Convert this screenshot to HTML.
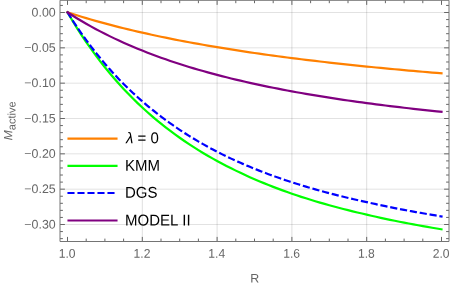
<!DOCTYPE html>
<html><head><meta charset="utf-8"><title>plot</title><style>html,body{margin:0;padding:0;background:#fff}</style></head><body>
<svg width="450" height="288" viewBox="0 0 450 288" style="display:block">
<rect width="450" height="288" fill="#fff"/>
<path d="M142.30 0.5V241.5M217.10 0.5V241.5M291.90 0.5V241.5M366.70 0.5V241.5" stroke="#000" stroke-opacity="0.13" stroke-width="1" fill="none"/>
<path d="M60 12.50H449M60 47.83H449M60 83.17H449M60 118.50H449M60 153.83H449M60 189.17H449M60 224.50H449" stroke="#000" stroke-opacity="0.115" stroke-width="1" fill="none"/>
<path d="M67.50 12.30 L72.17 13.81 L76.85 15.28 L81.53 16.71 L86.20 18.11 L90.88 19.48 L95.55 20.82 L100.22 22.12 L104.90 23.40 L109.58 24.64 L114.25 25.86 L118.92 27.06 L123.60 28.22 L128.28 29.36 L132.95 30.48 L137.62 31.57 L142.30 32.65 L146.97 33.69 L151.65 34.72 L156.33 35.73 L161.00 36.71 L165.67 37.68 L170.35 38.63 L175.03 39.56 L179.70 40.47 L184.38 41.37 L189.05 42.24 L193.72 43.10 L198.40 43.95 L203.08 44.78 L207.75 45.59 L212.42 46.39 L217.10 47.18 L221.78 47.95 L226.45 48.71 L231.12 49.45 L235.80 50.18 L240.47 50.90 L245.15 51.61 L249.83 52.31 L254.50 52.99 L259.18 53.66 L263.85 54.33 L268.53 54.98 L273.20 55.62 L277.88 56.25 L282.55 56.87 L287.22 57.48 L291.90 58.08 L296.58 58.67 L301.25 59.25 L305.93 59.82 L310.60 60.39 L315.28 60.95 L319.95 61.49 L324.62 62.03 L329.30 62.57 L333.97 63.09 L338.65 63.61 L343.32 64.12 L348.00 64.62 L352.68 65.11 L357.35 65.60 L362.03 66.08 L366.70 66.55 L371.38 67.02 L376.05 67.48 L380.72 67.94 L385.40 68.39 L390.07 68.83 L394.75 69.27 L399.43 69.70 L404.10 70.12 L408.78 70.54 L413.45 70.96 L418.12 71.37 L422.80 71.77 L427.47 72.17 L432.15 72.56 L436.82 72.95 L441.50 73.34" stroke="#ff8000" stroke-width="2.2" fill="none" stroke-linejoin="round" stroke-linecap="square"/>
<path d="M67.50 12.30 L72.17 20.21 L76.85 27.80 L81.53 35.07 L86.20 42.05 L90.88 48.74 L95.55 55.18 L100.22 61.36 L104.90 67.30 L109.58 73.01 L114.25 78.51 L118.92 83.80 L123.60 88.89 L128.28 93.80 L132.95 98.53 L137.62 103.09 L142.30 107.49 L146.97 111.74 L151.65 115.85 L156.33 119.82 L161.00 123.65 L165.67 127.35 L170.35 130.93 L175.03 134.39 L179.70 137.74 L184.38 140.98 L189.05 144.11 L193.72 147.15 L198.40 150.09 L203.08 152.94 L207.75 155.70 L212.42 158.37 L217.10 160.97 L221.78 163.49 L226.45 165.94 L231.12 168.31 L235.80 170.62 L240.47 172.86 L245.15 175.03 L249.83 177.15 L254.50 179.20 L259.18 181.19 L263.85 183.14 L268.53 185.02 L273.20 186.86 L277.88 188.64 L282.55 190.38 L287.22 192.07 L291.90 193.72 L296.58 195.30 L301.25 196.83 L305.93 198.32 L310.60 199.78 L315.28 201.20 L319.95 202.58 L324.62 203.92 L329.30 205.24 L333.97 206.51 L338.65 207.76 L343.32 208.98 L348.00 210.16 L352.68 211.32 L357.35 212.45 L362.03 213.55 L366.70 214.63 L371.38 215.71 L376.05 216.77 L380.72 217.81 L385.40 218.82 L390.07 219.81 L394.75 220.78 L399.43 221.72 L404.10 222.64 L408.78 223.54 L413.45 224.42 L418.12 225.28 L422.80 226.12 L427.47 226.94 L432.15 227.75 L436.82 228.54 L441.50 229.31" stroke="#00ff00" stroke-width="2.2" fill="none" stroke-linejoin="round" stroke-linecap="square"/>
<path d="M67.50 12.30 L72.17 19.69 L76.85 26.78 L81.53 33.57 L86.20 40.09 L90.88 46.35 L95.55 52.37 L100.22 58.14 L104.90 63.70 L109.58 69.04 L114.25 74.19 L118.92 79.14 L123.60 83.91 L128.28 88.50 L132.95 92.93 L137.62 97.20 L142.30 101.31 L146.97 105.32 L151.65 109.19 L156.33 112.92 L161.00 116.53 L165.67 120.02 L170.35 123.40 L175.03 126.66 L179.70 129.82 L184.38 132.88 L189.05 135.84 L193.72 138.70 L198.40 141.48 L203.08 144.17 L207.75 146.78 L212.42 149.32 L217.10 151.77 L221.78 154.12 L226.45 156.40 L231.12 158.62 L235.80 160.76 L240.47 162.85 L245.15 164.88 L249.83 166.84 L254.50 168.76 L259.18 170.61 L263.85 172.42 L268.53 174.18 L273.20 175.88 L277.88 177.55 L282.55 179.16 L287.22 180.74 L291.90 182.27 L296.58 183.76 L301.25 185.22 L305.93 186.64 L310.60 188.02 L315.28 189.36 L319.95 190.68 L324.62 191.95 L329.30 193.20 L333.97 194.42 L338.65 195.60 L343.32 196.76 L348.00 197.89 L352.68 198.99 L357.35 200.07 L362.03 201.12 L366.70 202.14 L371.38 203.19 L376.05 204.20 L380.72 205.20 L385.40 206.18 L390.07 207.13 L394.75 208.06 L399.43 208.98 L404.10 209.88 L408.78 210.76 L413.45 211.62 L418.12 212.46 L422.80 213.28 L427.47 214.09 L432.15 214.88 L436.82 215.66 L441.50 216.42" stroke="#0000ff" stroke-width="2.2" fill="none" stroke-linejoin="round" stroke-linecap="square" stroke-dasharray="5 5" stroke-dashoffset="-0.6"/>
<path d="M67.50 12.30 L72.17 15.30 L76.85 18.21 L81.53 21.02 L86.20 23.74 L90.88 26.37 L95.55 28.92 L100.22 31.40 L104.90 33.79 L109.58 36.12 L114.25 38.37 L118.92 40.56 L123.60 42.69 L128.28 44.75 L132.95 46.75 L137.62 48.70 L142.30 50.59 L146.97 52.43 L151.65 54.22 L156.33 55.97 L161.00 57.66 L165.67 59.31 L170.35 60.92 L175.03 62.48 L179.70 64.00 L184.38 65.49 L189.05 66.93 L193.72 68.34 L198.40 69.72 L203.08 71.06 L207.75 72.37 L212.42 73.64 L217.10 74.89 L221.78 76.11 L226.45 77.29 L231.12 78.45 L235.80 79.59 L240.47 80.69 L245.15 81.78 L249.83 82.83 L254.50 83.87 L259.18 84.88 L263.85 85.86 L268.53 86.83 L273.20 87.78 L277.88 88.70 L282.55 89.61 L287.22 90.49 L291.90 91.36 L296.58 92.21 L301.25 93.04 L305.93 93.86 L310.60 94.65 L315.28 95.44 L319.95 96.20 L324.62 96.95 L329.30 97.69 L333.97 98.41 L338.65 99.12 L343.32 99.81 L348.00 100.49 L352.68 101.16 L357.35 101.81 L362.03 102.46 L366.70 103.09 L371.38 103.71 L376.05 104.31 L380.72 104.91 L385.40 105.49 L390.07 106.07 L394.75 106.63 L399.43 107.19 L404.10 107.73 L408.78 108.27 L413.45 108.79 L418.12 109.31 L422.80 109.82 L427.47 110.32 L432.15 110.81 L436.82 111.29 L441.50 111.76" stroke="#800080" stroke-width="2.2" fill="none" stroke-linejoin="round" stroke-linecap="square"/>
<path d="M67.50 241.5v-4.6M67.50 0.3v4.6M86.20 241.5v-2.9M86.20 0.3v2.9M104.90 241.5v-2.9M104.90 0.3v2.9M123.60 241.5v-2.9M123.60 0.3v2.9M142.30 241.5v-4.6M142.30 0.3v4.6M161.00 241.5v-2.9M161.00 0.3v2.9M179.70 241.5v-2.9M179.70 0.3v2.9M198.40 241.5v-2.9M198.40 0.3v2.9M217.10 241.5v-4.6M217.10 0.3v4.6M235.80 241.5v-2.9M235.80 0.3v2.9M254.50 241.5v-2.9M254.50 0.3v2.9M273.20 241.5v-2.9M273.20 0.3v2.9M291.90 241.5v-4.6M291.90 0.3v4.6M310.60 241.5v-2.9M310.60 0.3v2.9M329.30 241.5v-2.9M329.30 0.3v2.9M348.00 241.5v-2.9M348.00 0.3v2.9M366.70 241.5v-4.6M366.70 0.3v4.6M385.40 241.5v-2.9M385.40 0.3v2.9M404.10 241.5v-2.9M404.10 0.3v2.9M422.80 241.5v-2.9M422.80 0.3v2.9M441.50 241.5v-4.6M441.50 0.3v4.6M60.0 5.43h2.9M449.0 5.43h-2.9M60.0 12.50h4.9M449.0 12.50h-4.9M60.0 19.57h2.9M449.0 19.57h-2.9M60.0 26.63h2.9M449.0 26.63h-2.9M60.0 33.70h2.9M449.0 33.70h-2.9M60.0 40.77h2.9M449.0 40.77h-2.9M60.0 47.83h4.9M449.0 47.83h-4.9M60.0 54.90h2.9M449.0 54.90h-2.9M60.0 61.97h2.9M449.0 61.97h-2.9M60.0 69.03h2.9M449.0 69.03h-2.9M60.0 76.10h2.9M449.0 76.10h-2.9M60.0 83.17h4.9M449.0 83.17h-4.9M60.0 90.23h2.9M449.0 90.23h-2.9M60.0 97.30h2.9M449.0 97.30h-2.9M60.0 104.37h2.9M449.0 104.37h-2.9M60.0 111.43h2.9M449.0 111.43h-2.9M60.0 118.50h4.9M449.0 118.50h-4.9M60.0 125.57h2.9M449.0 125.57h-2.9M60.0 132.63h2.9M449.0 132.63h-2.9M60.0 139.70h2.9M449.0 139.70h-2.9M60.0 146.77h2.9M449.0 146.77h-2.9M60.0 153.83h4.9M449.0 153.83h-4.9M60.0 160.90h2.9M449.0 160.90h-2.9M60.0 167.97h2.9M449.0 167.97h-2.9M60.0 175.03h2.9M449.0 175.03h-2.9M60.0 182.10h2.9M449.0 182.10h-2.9M60.0 189.17h4.9M449.0 189.17h-4.9M60.0 196.23h2.9M449.0 196.23h-2.9M60.0 203.30h2.9M449.0 203.30h-2.9M60.0 210.37h2.9M449.0 210.37h-2.9M60.0 217.43h2.9M449.0 217.43h-2.9M60.0 224.50h4.9M449.0 224.50h-4.9M60.0 231.57h2.9M449.0 231.57h-2.9M60.0 238.63h2.9M449.0 238.63h-2.9" stroke="#666" stroke-width="1" fill="none"/>
<path d="M60.0 0.3H449.0V241.5H60.0Z" stroke="#747474" stroke-width="1" fill="none"/>
<g font-family="Liberation Sans, Arial, sans-serif" font-size="12.4" fill="#666">
<text transform="translate(55.7,16.40) rotate(0.03)" text-anchor="end">0.00</text>
<text transform="translate(55.7,51.73) rotate(0.03)" text-anchor="end">−0.05</text>
<text transform="translate(55.7,87.07) rotate(0.03)" text-anchor="end">−0.10</text>
<text transform="translate(55.7,122.40) rotate(0.03)" text-anchor="end">−0.15</text>
<text transform="translate(55.7,157.73) rotate(0.03)" text-anchor="end">−0.20</text>
<text transform="translate(55.7,193.07) rotate(0.03)" text-anchor="end">−0.25</text>
<text transform="translate(55.7,228.40) rotate(0.03)" text-anchor="end">−0.30</text>
<text transform="translate(67.15,257.8) rotate(0.03) scale(1,1.04)" font-size="12.1" text-anchor="middle">1.0</text>
<text transform="translate(141.95,257.8) rotate(0.03) scale(1,1.04)" font-size="12.1" text-anchor="middle">1.2</text>
<text transform="translate(216.75,257.8) rotate(0.03) scale(1,1.04)" font-size="12.1" text-anchor="middle">1.4</text>
<text transform="translate(291.55,257.8) rotate(0.03) scale(1,1.04)" font-size="12.1" text-anchor="middle">1.6</text>
<text transform="translate(366.35,257.8) rotate(0.03) scale(1,1.04)" font-size="12.1" text-anchor="middle">1.8</text>
<text transform="translate(441.15,257.8) rotate(0.03) scale(1,1.04)" font-size="12.1" text-anchor="middle">2.0</text>
<text transform="translate(254.8,282.4) rotate(0.03)" text-anchor="middle">R</text>
<text transform="translate(12.2,140.2) rotate(-90.03)"><tspan font-style="italic" font-size="12">M</tspan><tspan font-size="11" dy="3.3">active</tspan></text>
</g>
<g font-family="Liberation Sans, Arial, sans-serif" font-size="15" fill="#000">
<path d="M68.5 138.6H116.5" stroke="#ff8000" stroke-width="2.1" stroke-linecap="square" fill="none"/>
<text transform="translate(126,143.3) rotate(0.03) scale(1,1.04)"><tspan font-style="italic">λ</tspan> = 0</text>
<path d="M68.5 165.9H116.5" stroke="#00ff00" stroke-width="2.1" stroke-linecap="square" fill="none"/>
<text transform="translate(125,170.7) rotate(0.03) scale(1,1.04)">KMM</text>
<path d="M68.5 192.95H116.5" stroke="#0000ff" stroke-width="2.1" stroke-linecap="square" fill="none" stroke-dasharray="5 5"/>
<text transform="translate(125,197.8) rotate(0.03) scale(1,1.04)">DGS</text>
<path d="M68.5 220.55H116.5" stroke="#800080" stroke-width="2.1" stroke-linecap="square" fill="none"/>
<text transform="translate(125,225.4) rotate(0.03) scale(1,1.04)">MODEL <tspan dx="0.3">II</tspan></text>
</g>
</svg>
</body></html>
